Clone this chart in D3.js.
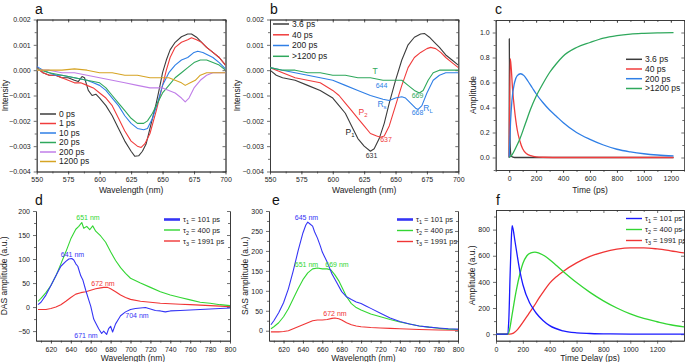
<!DOCTYPE html>
<html>
<head>
<meta charset="utf-8">
<script src="https://cdn.jsdelivr.net/npm/d3@7"></script>
<style>
  body { margin: 0; background: #fff; }
  svg { display: block; }
</style>
</head>
<body>
<div id="graphic"></div>
<script>
// ---- data ----
// panel a: transient spectra, [wavelength nm, intensity]
const a0ps = [[550,0.0001],[555,-0.0001],[560,-0.0002],[565,-0.0002],[570,-0.0003],[575,-0.0003],[580,-0.0004],[583,-0.00045],[586,-0.00025],[588,-0.0003],[591,-0.0008],[594,-0.001],[597,-0.00095],[600,-0.0011],[605,-0.0014],[610,-0.0018],[615,-0.0023],[620,-0.0028],[625,-0.0032],[628,-0.0034],[631,-0.00338],[634,-0.0032],[637,-0.0029],[640,-0.0023],[645,-0.0013],[648,-0.0006],[650,-0.0001],[653,0.0004],[656,0.0008],[660,0.0011],[665,0.00132],[670,0.00143],[673,0.00143],[677,0.0013],[681,0.0011],[685,0.0009],[690,0.0007],[695,0.0005],[700,0.0002]];
const a1ps = [[550,0.0001],[555,-0.0001],[560,-0.0002],[565,-0.0002],[570,-0.0003],[575,-0.0004],[580,-0.0005],[585,-0.0005],[590,-0.0006],[595,-0.0007],[600,-0.0009],[605,-0.0011],[610,-0.0014],[615,-0.0019],[620,-0.0024],[625,-0.0028],[630,-0.003],[633,-0.00305],[636,-0.0029],[640,-0.0025],[645,-0.0016],[650,-0.0006],[653,0.0],[656,0.0005],[660,0.0009],[665,0.0011],[670,0.0012],[673,0.00128],[677,0.0012],[681,0.0011],[685,0.0009],[690,0.0007],[695,0.0005],[700,0.0002]];
const a10ps = [[550,0.00015],[555,0.0],[560,-0.0001],[565,-0.0002],[570,-0.0002],[580,-0.0003],[590,-0.0004],[595,-0.0005],[600,-0.0006],[605,-0.0008],[610,-0.0011],[615,-0.0014],[620,-0.0018],[625,-0.0021],[630,-0.0023],[635,-0.00235],[638,-0.0023],[642,-0.0019],[646,-0.0013],[650,-0.0006],[655,-0.0001],[660,0.0002],[665,0.0004],[670,0.0005],[675,0.0007],[678,0.00075],[682,0.0007],[686,0.0006],[690,0.0005],[695,0.0003],[700,0.00005]];
const a20ps = [[550,0.00005],[560,-0.0001],[570,-0.0002],[580,-0.0003],[590,-0.0004],[600,-0.0005],[605,-0.0007],[610,-0.001],[615,-0.0013],[620,-0.0016],[625,-0.0019],[630,-0.0021],[635,-0.0021],[638,-0.002],[642,-0.0017],[646,-0.0013],[650,-0.0009],[655,-0.0006],[660,-0.0003],[665,-0.0001],[670,0.0001],[675,0.0003],[680,0.0004],[685,0.0004],[690,0.0003],[695,0.0002],[700,0.0]];
const a200ps = [[550,0.0],[560,0.0],[570,-0.0001],[580,-0.0001],[590,-0.0002],[600,-0.0003],[610,-0.0004],[620,-0.0005],[630,-0.0006],[640,-0.0007],[645,-0.0007],[650,-0.0007],[655,-0.0008],[660,-0.0009],[665,-0.0011],[668,-0.00125],[671,-0.0011],[675,-0.0007],[680,-0.0004],[685,-0.0002],[690,-0.0001],[695,-0.0001],[700,-0.0001]];
const a1200ps = [[550,0.0],[560,0.0],[570,0.0],[580,0.00005],[590,0.0],[600,-0.0001],[610,-0.0001],[620,-0.0002],[630,-0.0002],[640,-0.0003],[650,-0.0003],[655,-0.0003],[660,-0.0004],[665,-0.0005],[668,-0.0006],[672,-0.0005],[676,-0.0004],[680,-0.0002],[685,-0.0001],[690,-0.0001],[695,-0.0001],[700,-0.0001]];
const aLabels = ["0 ps", "1 ps", "10 ps", "20 ps", "200 ps", "1200 ps"];

// panel b: species spectra
const b36ps = [[550,0.0],[555,-0.0002],[560,-0.0003],[570,-0.0004],[580,-0.0006],[590,-0.0008],[600,-0.0011],[605,-0.0014],[610,-0.0017],[615,-0.0022],[620,-0.0027],[625,-0.003],[630,-0.0032],[633,-0.0031],[637,-0.0027],[641,-0.0021],[645,-0.0013],[650,-0.0004],[655,0.0004],[660,0.001],[665,0.0013],[670,0.00143],[673,0.00145],[677,0.0013],[681,0.0011],[685,0.0009],[690,0.0006],[695,0.0004],[700,0.0002]];
const b40ps = [[550,0.0001],[560,-0.0001],[570,-0.0003],[580,-0.0004],[590,-0.0005],[600,-0.0008],[605,-0.001],[610,-0.0013],[615,-0.0016],[620,-0.0019],[625,-0.0022],[630,-0.0025],[635,-0.0026],[638,-0.00265],[641,-0.0026],[645,-0.0022],[650,-0.0014],[655,-0.0006],[660,0.0001],[665,0.0005],[670,0.0007],[675,0.00085],[678,0.0009],[682,0.00085],[686,0.0007],[690,0.0005],[695,0.0003],[700,0.0001]];
const b200ps = [[550,0.0001],[560,0.0],[570,-0.0001],[580,-0.0002],[590,-0.0003],[600,-0.0004],[610,-0.0006],[620,-0.0008],[630,-0.001],[640,-0.00115],[645,-0.0012],[650,-0.0011],[655,-0.00105],[658,-0.0011],[662,-0.0013],[666,-0.0015],[668,-0.00155],[671,-0.0014],[675,-0.0009],[680,-0.0004],[685,-0.0002],[690,-0.0001],[700,-0.0001]];
const b1200ps = [[550,0.0001],[560,0.0],[570,0.0],[580,-0.0001],[590,-0.0001],[600,-0.0002],[610,-0.0002],[620,-0.0003],[630,-0.0003],[640,-0.0004],[650,-0.0004],[655,-0.0004],[660,-0.0006],[665,-0.0008],[669,-0.0009],[672,-0.0008],[676,-0.0004],[680,-0.0001],[685,0.0],[690,0.0],[700,0.0]];
const bLabels = ["3.6 ps", "40 ps", "200 ps", ">1200 ps"];

// panel c: concentration profiles, [time ps, amplitude]
const c36ps = [[0,0],[1,0.95],[4,0.3],[8,0.08],[15,0.01],[40,0],[1220,0]];
const c40ps = [[0,0],[8,0.79],[15,0.72],[25,0.55],[40,0.38],[60,0.22],[80,0.13],[100,0.07],[130,0.03],[160,0.015],[200,0.005],[250,0.002],[400,0],[1220,0]];
const c200ps = [[0,0],[10,0.28],[20,0.45],[40,0.6],[60,0.655],[85,0.67],[110,0.655],[140,0.61],[170,0.56],[200,0.51],[250,0.44],[300,0.38],[350,0.33],[400,0.28],[500,0.2],[600,0.145],[700,0.1],[800,0.066],[900,0.045],[1000,0.03],[1100,0.02],[1220,0.013]];
const c1200ps = [[0,0],[20,0.02],[50,0.08],[80,0.15],[120,0.27],[160,0.39],[200,0.49],[250,0.59],[300,0.68],[350,0.75],[400,0.81],[500,0.88],[600,0.92],[700,0.955],[800,0.975],[900,0.987],[1000,0.993],[1100,0.997],[1220,0.999]];

// panel d: DAS
const dTau1 = [[607,5],[610,10],[615,25],[620,45],[625,65],[630,85],[635,95],[638,100],[641,101],[643,98],[645,90],[647,85],[650,65],[652,57],[655,35],[658,15],[660,2],[663,-25],[665,-33],[668,-45],[671,-55],[673,-50],[676,-57],[678,-45],[680,-40],[682,-52],[685,-35],[688,-25],[690,-18],[695,-10],[700,-5],[705,-3],[710,-2],[715,-1],[720,-4],[725,-7],[730,-8],[735,-10],[740,-8],[750,-7],[760,-6],[770,-5],[780,-4],[790,-3],[800,-2]];
const dTau2 = [[607,12],[610,18],[615,30],[620,45],[625,65],[630,90],[635,115],[640,142],[645,162],[648,168],[651,176],[653,164],[656,168],[659,161],[662,169],[665,158],[670,148],[675,135],[680,115],[685,97],[690,82],[695,70],[700,60],[710,50],[720,41],[730,32],[740,25],[750,20],[760,15],[770,10],[780,8],[790,5],[800,3]];
const dTau3 = [[607,-5],[615,-5],[620,-3],[625,0],[630,5],[635,12],[640,20],[645,27],[650,30],[655,32],[660,35],[665,38],[670,40],[673,41],[677,41],[680,38],[685,32],[690,25],[695,20],[700,16],[710,12],[720,10],[730,8],[740,7],[750,6],[760,5],[770,4],[780,3],[790,2],[800,1]];

// panel e: SAS
const eTau1 = [[607,15],[610,25],[615,45],[620,70],[625,105],[630,150],[635,200],[640,245],[643,265],[645,272],[647,268],[650,262],[652,248],[655,232],[658,212],[660,197],[665,172],[670,142],[675,120],[680,98],[685,85],[690,78],[695,72],[700,68],[705,62],[710,56],[720,44],[730,32],[740,23],[750,17],[760,12],[770,9],[780,7],[790,5],[800,4]];
const eTau2 = [[607,5],[610,10],[615,20],[620,35],[625,55],[630,80],[635,105],[640,128],[645,145],[650,155],[655,157],[660,155],[665,155],[669,152],[673,140],[677,125],[680,110],[685,85],[690,68],[695,58],[700,52],[710,42],[720,35],[730,28],[740,22],[750,17],[760,12],[770,9],[780,6],[790,4],[800,3]];
const eTau3 = [[607,-3],[615,-3],[620,-2],[625,0],[630,5],[635,10],[640,15],[645,20],[650,25],[655,27],[660,27],[665,28],[670,31],[673,32],[677,30],[680,27],[685,20],[690,15],[695,12],[700,10],[710,8],[720,7],[730,6],[740,5],[760,3],[780,2],[800,1]];

// panel f: kinetics, [time delay ps, amplitude]
const fTau1 = [[0,0],[85,0],[95,100],[105,450],[113,700],[120,830],[128,800],[140,720],[160,590],[180,470],[200,380],[250,240],[280,190],[300,160],[350,105],[400,65],[500,25],[600,10],[700,5],[800,2],[1000,1],[1400,0]];
const fTau2 = [[0,0],[90,0],[100,30],[120,150],[150,330],[180,470],[200,540],[230,600],[260,622],[290,628],[320,620],[360,600],[400,570],[450,525],[500,480],[600,395],[700,320],[800,255],[900,200],[1000,155],[1100,120],[1200,95],[1300,72],[1400,55]];
const fTau3 = [[0,0],[100,0],[130,8],[160,35],[200,90],[240,150],[280,210],[320,275],[360,335],[400,390],[450,440],[500,480],[600,545],[700,595],[800,628],[900,650],[1000,660],[1100,660],[1200,652],[1300,638],[1400,622]];
const tauLabels = [["1", " = 101 ps"], ["2", " = 400 ps"], ["3", " = 1991 ps"]];

// ---- drawing ----
const FONT = "'Liberation Sans', Arial, sans-serif";
const svg = d3.select("#graphic").append("svg")
    .attr("width", 685).attr("height", 362)
    .style("font-family", FONT);

function range(a, b, s) { return d3.range(a, b + s / 2, s); }

function makePanel(p) {
    const g = svg.append("g");
    const x = d3.scaleLinear().domain(p.xd).range([p.x0, p.x1]);
    const y = d3.scaleLinear().domain(p.yd).range([p.y1, p.y0]);
    const xs = p.xt.filter(v => v >= p.xd[0] && v <= p.xd[1]);
    const xm = p.xm.filter(v => v >= p.xd[0] && v <= p.xd[1]);

    // minor ticks
    g.append("g").attr("transform", "translate(0," + p.y1 + ")")
        .call(d3.axisBottom(x).tickValues(xm).tickSize(2).tickSizeOuter(0).tickFormat(""));
    g.append("g").attr("transform", "translate(" + p.x0 + ",0)")
        .call(d3.axisLeft(y).tickValues(p.ym).tickSize(2).tickSizeOuter(0).tickFormat(""));
    // major ticks
    g.append("g").attr("transform", "translate(0," + p.y1 + ")")
        .call(d3.axisBottom(x).tickValues(xs).tickSize(3).tickSizeOuter(0).tickFormat(p.xf));
    g.append("g").attr("transform", "translate(" + p.x0 + ",0)")
        .call(d3.axisLeft(y).tickValues(p.yt).tickSize(3).tickSizeOuter(0).tickFormat(p.yf));
    if (p.top) {
        g.append("g").attr("transform", "translate(0," + p.y0 + ")")
            .call(d3.axisTop(x).tickValues(xs).tickSize(-3).tickSizeOuter(0).tickFormat(""));
        g.append("g").attr("transform", "translate(0," + p.y0 + ")")
            .call(d3.axisTop(x).tickValues(xm).tickSize(-2).tickSizeOuter(0).tickFormat(""));
    }
    if (p.right) {
        g.append("g").attr("transform", "translate(" + p.x1 + ",0)")
            .call(d3.axisRight(y).tickValues(p.yt).tickSize(-3).tickSizeOuter(0).tickFormat(""));
        g.append("g").attr("transform", "translate(" + p.x1 + ",0)")
            .call(d3.axisRight(y).tickValues(p.ym).tickSize(-2).tickSizeOuter(0).tickFormat(""));
    }
    g.selectAll(".domain").attr("stroke", "#333").attr("stroke-width", 0.8);
    g.selectAll(".tick line").attr("stroke", "#333").attr("stroke-width", 0.7);
    g.selectAll(".tick text").attr("font-size", 7).attr("fill", "#222").attr("font-family", FONT);

    const clipId = "clip" + p.name;
    svg.append("clipPath").attr("id", clipId).append("rect")
        .attr("x", p.x0).attr("y", p.y0).attr("width", p.x1 - p.x0).attr("height", p.y1 - p.y0);
    const lines = svg.append("g").attr("clip-path", "url(#" + clipId + ")");
    const line = d3.line().x(d => x(d[0])).y(d => y(d[1])).curve(p.curve || d3.curveLinear);
    p.series.forEach(s => {
        lines.append("path").datum(s.data)
            .attr("fill", "none").attr("stroke", s.color)
            .attr("stroke-width", s.w || 1.1).attr("stroke-linejoin", "round")
            .attr("d", line);
    });

    // axis titles
    svg.append("text").attr("x", (p.x0 + p.x1) / 2).attr("y", p.xty)
        .attr("text-anchor", "middle").attr("font-size", 8.5).attr("fill", "#222")
        .text(p.xtitle);
    svg.append("text").attr("transform", "translate(" + p.ytx + "," + ((p.y0 + p.y1) / 2) + ") rotate(-90)")
        .attr("text-anchor", "middle").attr("font-size", 8.5).attr("fill", "#222")
        .attr("dy", "0.35em").text(p.ytitle);
    // panel letter
    svg.append("text").attr("x", p.lx).attr("y", p.ly)
        .attr("font-size", 14).attr("fill", "#111").text(p.name);
    return {x, y};
}

function legend(x, ys, items) {
    items.forEach((it, i) => {
        svg.append("line").attr("x1", x).attr("x2", x + 16).attr("y1", ys[i]).attr("y2", ys[i])
            .attr("stroke", it.color).attr("stroke-width", it.w || 1.3);
        const t = svg.append("text").attr("x", x + 19).attr("y", ys[i]).attr("dy", "0.35em")
            .attr("font-size", it.fs || 8.5).attr("fill", "#222");
        if (it.sub) {
            t.append("tspan").text("τ");
            t.append("tspan").attr("font-size", 5.5).attr("dy", 2).text(it.sub[0]);
            t.append("tspan").attr("dy", -2).text(it.sub[1]);
        } else t.text(it.label);
    });
}

function note(x, y, txt, color, sub, fs) {
    const t = svg.append("text").attr("x", x).attr("y", y).attr("text-anchor", "middle")
        .attr("dy", "0.35em").attr("font-size", fs || 7).attr("fill", color);
    t.append("tspan").text(txt);
    if (sub) t.append("tspan").attr("font-size", (fs || 7) * 0.7).attr("dy", 2).text(sub);
}

const cA = ["#3c3c3c", "#f03c3c", "#2f7fe6", "#2fa85c", "#c07ee8", "#d6a424"];
const cD = ["#3535f5", "#33d633", "#f03535"];

const wl1 = {xd: [550, 700], xt: range(550, 700, 25), xm: range(550, 700, 12.5),
    yd: [-0.004, 0.002], yt: range(-0.004, 0.002, 0.001), ym: range(-0.0035, 0.0015, 0.001),
    xf: d3.format("d"), yf: d3.format(".3f"), y0: 19.5, y1: 171.5, top: true, right: true,
    xtitle: "Wavelength (nm)", xty: 193, ytitle: "Intensity"};

makePanel(Object.assign({}, wl1, {name: "a", x0: 36.7, x1: 225.5, ytx: 5, lx: 35, ly: 14,
    series: [a0ps, a1ps, a10ps, a20ps, a200ps, a1200ps].map((d, i) => ({data: d, color: cA[i]}))}));
legend(40, [114, 123.5, 133, 142.5, 152, 161.5], aLabels.map((l, i) => ({label: l, color: cA[i], w: 1.5})));

makePanel(Object.assign({}, wl1, {name: "b", x0: 270, x1: 458.3, ytx: 237, lx: 270, ly: 14,
    series: [b36ps, b40ps, b200ps, b1200ps].map((d, i) => ({data: d, color: cA[i]}))}));
legend(273, [24, 34.8, 45.5, 56.3], bLabels.map((l, i) => ({label: l, color: cA[i], w: 1.5})));
note(375, 71.5, "T", cA[3], null, 8.5);
note(381.5, 86, "644", cA[2]);
note(382, 104, "R", cA[2], "s", 8.5);
note(417.5, 96, "669", cA[3]);
note(417.5, 113, "668", cA[2]);
note(428, 108, "R", cA[2], "L", 8.5);
note(363, 112.5, "P", cA[1], "2", 8.5);
note(350, 132.5, "P", "#222", "1", 8.5);
note(386, 140, "637", cA[1]);
note(371.5, 155.5, "631", "#333");

makePanel({name: "c", x0: 495.7, x1: 684.3, y0: 20, y1: 170, top: true, right: true,
    xd: [-100, 1300], xt: range(0, 1200, 200), xm: range(-100, 1300, 100),
    yd: [-0.1, 1.1], yt: range(0, 1, 0.2), ym: range(-0.1, 1.1, 0.2),
    xf: d3.format("d"), yf: d3.format(".1f"), xtitle: "Time (ps)", xty: 193,
    ytitle: "Amplitude", ytx: 473.5, lx: 495, ly: 14, curve: d3.curveMonotoneX,
    series: [c36ps, c40ps, c200ps, c1200ps].map((d, i) => ({data: d, color: cA[i], w: 1.3}))});
legend(626, [59.3, 69, 78.7, 88.5], bLabels.map((l, i) => ({label: l, color: cA[i], w: 1.5})));

const wl2 = {xd: [605, 800], xt: range(620, 800, 20), xm: range(610, 800, 10),
    xf: d3.format("d"), yf: d3.format("d"), y0: 211, y1: 340.7, top: false, right: true,
    xtitle: "Wavelength (nm)", xty: 361};

makePanel(Object.assign({}, wl2, {name: "d", x0: 36, x1: 230, yd: [-70, 200],
    yt: range(-50, 200, 50), ym: range(-50, 175, 25).filter(v => v % 50 !== 0),
    ytitle: "DAS amplitude (a.u.)", ytx: 4.5, lx: 35, ly: 205,
    series: [{data: dTau3, color: cD[2]}, {data: dTau2, color: cD[1]}, {data: dTau1, color: cD[0]}]}));
legend(164, [219.5, 230, 241], tauLabels.map((s, i) => ({sub: s, color: cD[i], w: i === 0 ? 2.6 : 1.4, fs: 7.5})));
note(88, 217.5, "651 nm", cD[1]);
note(72.5, 255, "641 nm", cD[0]);
note(103, 283.5, "672 nm", cD[2]);
note(137, 315.5, "704 nm", cD[0]);
note(86, 335.5, "671 nm", cD[0]);

makePanel(Object.assign({}, wl2, {name: "e", x0: 269, x1: 458, yd: [-25, 300],
    yt: range(0, 300, 50), ym: range(25, 275, 50),
    ytitle: "SAS amplitude (a.u.)", ytx: 245, lx: 272, ly: 205,
    series: [{data: eTau3, color: cD[2]}, {data: eTau2, color: cD[1]}, {data: eTau1, color: cD[0]}]}));
legend(397, [219.5, 230.5, 241.5], tauLabels.map((s, i) => ({sub: s, color: cD[i], w: i === 0 ? 2.6 : 1.4, fs: 7.5})));
note(306.5, 217.5, "645 nm", cD[0]);
note(306.5, 265, "651 nm", cD[1]);
note(337, 265, "669 nm", cD[1]);
note(335, 313.5, "672 nm", cD[2]);

makePanel({name: "f", x0: 496, x1: 684, y0: 210, y1: 340.7, top: true, right: true,
    xd: [0, 1400], xt: range(0, 1200, 200), xm: range(100, 1300, 200),
    yd: [-50, 950], yt: range(0, 800, 200), ym: range(100, 900, 200),
    xf: d3.format("d"), yf: d3.format("d"), xtitle: "Time Delay (ps)", xty: 361,
    ytitle: "Amplitude (a.u.)", ytx: 472, lx: 496, ly: 205, curve: d3.curveMonotoneX,
    series: [{data: fTau3, color: cD[2], w: 1.3}, {data: fTau2, color: cD[1], w: 1.3}, {data: fTau1, color: "#1a1aff", w: 1.3}]});
legend(626, [218.5, 229.5, 240.5], tauLabels.map((s, i) => ({sub: s, color: i === 0 ? "#1a1aff" : cD[i], w: 1.4, fs: 7.5})));
</script>
</body>
</html>
